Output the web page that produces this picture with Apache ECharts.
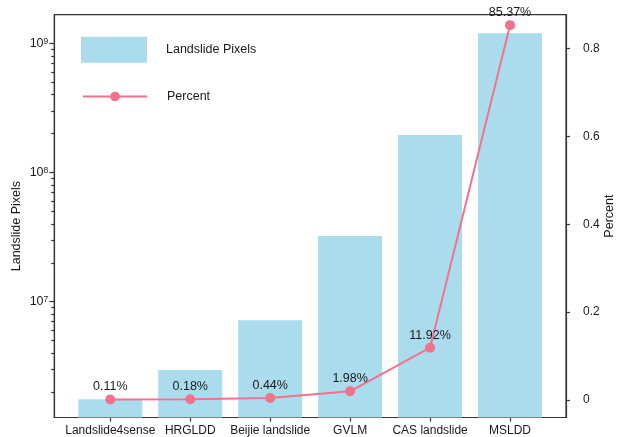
<!DOCTYPE html>
<html>
<head>
<meta charset="utf-8">
<title>Landslide Pixels by dataset</title>
<script src="https://cdn.jsdelivr.net/npm/echarts@6/dist/echarts.min.js"></script>
<style>
  html, body { margin: 0; padding: 0; background: #fff; }
  #chart { width: 619px; height: 437px; }
</style>
</head>
<body>
<div id="chart"></div>
<script>
// Datasets along the x axis
const datasets = ['Landslide4sense', 'HRGLDD', 'Beijie landslide', 'GVLM', 'CAS landslide', 'MSLDD'];
// Number of landslide pixels per dataset (log scale, left axis)
const landslidePixels = [1.76e6, 2.96e6, 7.18e6, 3.23e7, 1.95e8, 1.195e9];
// Share of all landslide pixels (right axis)
const percentShare = [0.0011, 0.0018, 0.0044, 0.0198, 0.1192, 0.8537];

// Axis ticks
const pixelMajorTicks = [1e7, 1e8, 1e9];
const pixelMinorTicks = [2e6, 3e6, 4e6, 5e6, 6e6, 7e6, 8e6, 9e6,
  2e7, 3e7, 4e7, 5e7, 6e7, 7e7, 8e7, 9e7,
  2e8, 3e8, 4e8, 5e8, 6e8, 7e8, 8e8, 9e8];
const percentTicks = [0, 0.2, 0.4, 0.6, 0.8];

const FONT = '"Liberation Sans", Arial, Helvetica, sans-serif';
const TEXT = '#1a1a1a';
const AXIS = '#333';
const BAR_COLOR = '#aadcee';
const LINE_COLOR = '#f2718b';

const positions = datasets.map((_, i) => i);
const PIXEL_MIN = 1.27e6, PIXEL_MAX = 1.665e9;

// Both grids share the same plot rectangle; the second one only carries
// the minor ticks of the logarithmic axis.
const plotRect = { left: 54.3, right: 53, top: 14.7, bottom: 19.5, outerBoundsMode: 'none', containLabel: false };

const chart = echarts.init(document.getElementById('chart'), null, { renderer: 'canvas' });

chart.setOption({
  animation: false,
  backgroundColor: '#fff',
  textStyle: { fontFamily: FONT, color: TEXT },
  grid: [
    Object.assign({ show: true, borderColor: AXIS, borderWidth: 1.2, backgroundColor: 'transparent' }, plotRect),
    Object.assign({ show: false }, plotRect)
  ],
  legend: [
    {
      data: ['Landslide Pixels'],
      left: 81, top: 36.7, padding: 0,
      itemWidth: 66, itemHeight: 26, icon: 'rect',
      textStyle: { fontFamily: FONT, fontSize: 12.5, color: TEXT, padding: [0, 0, 0, 14] }
    },
    {
      data: ['Percent'],
      left: 82, top: 90, padding: 0,
      itemWidth: 64, itemHeight: 12,
      textStyle: { fontFamily: FONT, fontSize: 12.5, color: TEXT, padding: [0, 0, 0, 15] }
    }
  ],
  xAxis: [
    {
      type: 'value',
      gridIndex: 0,
      min: -0.7, max: 5.7,
      position: 'bottom',
      axisLine: { show: true, onZero: false, lineStyle: { color: AXIS, width: 1.2 } },
      axisTick: { show: true, customValues: positions, length: 4, lineStyle: { color: AXIS, width: 1.2 } },
      axisLabel: {
        customValues: positions,
        formatter: v => datasets[Math.round(v)] || '',
        fontFamily: FONT, fontSize: 12, color: TEXT, margin: 7
      },
      splitLine: { show: false }
    },
    {
      type: 'value',
      gridIndex: 1,
      min: -0.7, max: 5.7,
      show: false
    }
  ],
  yAxis: [
    {
      type: 'log', logBase: 10,
      gridIndex: 0,
      min: PIXEL_MIN, max: PIXEL_MAX,
      position: 'left',
      name: 'Landslide Pixels', nameLocation: 'middle', nameGap: 31, nameRotate: 90,
      nameMoveOverlap: false,
      nameTextStyle: { fontFamily: FONT, fontSize: 12.5, color: TEXT, padding: [0, 20, 0, 0] },
      axisLine: { show: true, onZero: false, lineStyle: { color: AXIS, width: 1.2 } },
      axisTick: { show: true, customValues: pixelMajorTicks, length: 5, lineStyle: { color: AXIS, width: 1.2 } },
      axisLabel: {
        customValues: pixelMajorTicks,
        margin: 6,
        formatter: v => '{b|10}{s|' + Math.round(Math.log10(v)) + '}',
        rich: {
          b: { fontFamily: FONT, fontSize: 12.5, color: TEXT },
          s: { fontFamily: FONT, fontSize: 8.5, color: TEXT, verticalAlign: 'top' }
        }
      },
      splitLine: { show: false }
    },
    {
      type: 'value',
      gridIndex: 0,
      min: -0.0399, max: 0.8775,
      position: 'right',
      name: 'Percent', nameLocation: 'middle', nameGap: 37, nameRotate: 90,
      nameMoveOverlap: false,
      nameTextStyle: { fontFamily: FONT, fontSize: 12.5, color: TEXT },
      axisLine: { show: true, onZero: false, lineStyle: { color: AXIS, width: 1.2 } },
      axisTick: { show: true, customValues: percentTicks, length: 4, lineStyle: { color: AXIS, width: 1.2 } },
      axisLabel: {
        customValues: percentTicks,
        margin: 17,
        formatter: v => (v === 0 ? '0' : v.toFixed(1)),
        fontFamily: FONT, fontSize: 12, color: TEXT
      },
      splitLine: { show: false }
    },
    {
      // minor ticks of the logarithmic axis
      type: 'log', logBase: 10,
      gridIndex: 1,
      min: PIXEL_MIN, max: PIXEL_MAX,
      position: 'left',
      axisLine: { show: false, onZero: false },
      axisTick: { show: true, customValues: pixelMinorTicks, length: 3, lineStyle: { color: AXIS, width: 1.2 } },
      axisLabel: { show: false },
      splitLine: { show: false }
    }
  ],
  series: [
    {
      name: 'Landslide Pixels',
      type: 'bar',
      xAxisIndex: 0,
      yAxisIndex: 0,
      barWidth: 64,
      itemStyle: { color: BAR_COLOR },
      data: landslidePixels.map((v, i) => [positions[i], v])
    },
    {
      name: 'Percent',
      type: 'line',
      xAxisIndex: 0,
      yAxisIndex: 1,
      symbol: 'circle',
      symbolSize: 10,
      itemStyle: { color: LINE_COLOR },
      lineStyle: { color: LINE_COLOR, width: 2 },
      label: {
        show: true, position: 'top', distance: 1,
        formatter: p => (p.value[1] * 100).toFixed(2) + '%',
        fontFamily: FONT, fontSize: 12.5, color: TEXT
      },
      data: percentShare.map((v, i) => [positions[i], v])
    }
  ]
});
</script>
</body>
</html>
